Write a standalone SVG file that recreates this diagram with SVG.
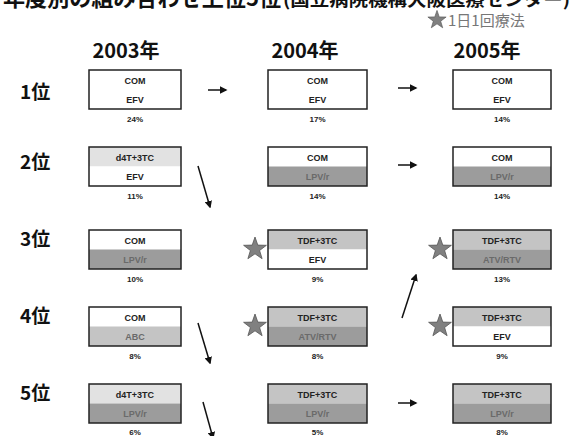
<svg xmlns="http://www.w3.org/2000/svg" width="575" height="436" viewBox="0 0 575 436">
<defs>
<style>
.ttl{font-family:"Noto Sans CJK JP",sans-serif;font-weight:bold;fill:#111}
.yr{font-family:"Noto Sans CJK JP",sans-serif;font-weight:bold;font-size:20px;fill:#111;text-anchor:middle}
.rk{font-family:"Noto Sans CJK JP",sans-serif;font-weight:bold;font-size:19px;fill:#111}
.lg{font-family:"Noto Sans CJK JP",sans-serif;font-size:15px;fill:#777}
.bx{stroke:#222;stroke-width:1.5;fill:none}
.t{font-family:"Liberation Sans",Arial,sans-serif;font-size:9px;font-weight:bold;fill:#222;text-anchor:middle}
.td{font-family:"Liberation Sans",Arial,sans-serif;font-size:9px;font-weight:bold;fill:#6a6a6a;text-anchor:middle}
.p{font-family:"Liberation Sans",Arial,sans-serif;font-size:8px;font-weight:bold;fill:#222;text-anchor:middle}
.w{fill:#ffffff}
.l{fill:#e2e2e2}
.m{fill:#c4c4c4}
.d{fill:#9c9c9c}
.ar{stroke:#111;stroke-width:1.5;fill:none;marker-end:url(#ah)}
.star{fill:#808080;stroke:#555;stroke-width:0.8}
</style>
<marker id="ah" viewBox="0 0 10 10" refX="8" refY="5" markerWidth="5" markerHeight="5" orient="auto" markerUnits="strokeWidth">
<path d="M0,0 L10,5 L0,10 z" fill="#111"/>
</marker>
<path id="st" d="M0,-12 L2.8,-3.9 L11.4,-3.7 L4.6,1.5 L7.1,9.7 L0,4.8 L-7.1,9.7 L-4.6,1.5 L-11.4,-3.7 L-2.8,-3.9 z"/>
</defs>

<g id="title">
<text class="ttl" x="3" y="6" font-size="22" textLength="278" lengthAdjust="spacingAndGlyphs">年度別の組み合わせ上位5位</text>
<text class="ttl" x="283" y="6" font-size="17" textLength="287" lengthAdjust="spacingAndGlyphs">(国立病院機構大阪医療センター)</text>
</g>

<g id="legend">
<use href="#st" class="star" transform="translate(437,20) scale(0.8)"/>
<text class="lg" x="448" y="26">1日1回療法</text>
</g>

<g id="years">
<text class="yr" x="126" y="58">2003年</text>
<text class="yr" x="305" y="58">2004年</text>
<text class="yr" x="487" y="58">2005年</text>
</g>

<g id="ranks">
<text class="rk" x="20" y="99">1位</text>
<text class="rk" x="20" y="169">2位</text>
<text class="rk" x="20" y="246">3位</text>
<text class="rk" x="20" y="323">4位</text>
<text class="rk" x="20" y="400">5位</text>
</g>

<!-- 2003 column -->
<g id="n2003-1">
<rect class="w" x="89" y="70" width="92" height="39"/>
<rect class="bx" x="89" y="70" width="92" height="39"/>
<text class="t" x="135" y="84">COM</text><text class="t" x="135" y="103">EFV</text>
<text class="p" x="135" y="122">24%</text>
</g>
<g id="n2003-2">
<rect class="l" x="89" y="147" width="92" height="19.5"/><rect class="w" x="89" y="166.5" width="92" height="19.5"/>
<rect class="bx" x="89" y="147" width="92" height="39"/>
<text class="t" x="135" y="161">d4T+3TC</text><text class="t" x="135" y="180">EFV</text>
<text class="p" x="135" y="199">11%</text>
</g>
<g id="n2003-3">
<rect class="w" x="89" y="230" width="92" height="19.5"/><rect class="d" x="89" y="249.5" width="92" height="19.5"/>
<rect class="bx" x="89" y="230" width="92" height="39"/>
<text class="t" x="135" y="244">COM</text><text class="td" x="135" y="263">LPV/r</text>
<text class="p" x="135" y="282">10%</text>
</g>
<g id="n2003-4">
<rect class="w" x="89" y="307" width="92" height="19.5"/><rect class="m" x="89" y="326.5" width="92" height="19.5"/>
<rect class="bx" x="89" y="307" width="92" height="39"/>
<text class="t" x="135" y="321">COM</text><text class="td" x="135" y="340">ABC</text>
<text class="p" x="135" y="359">8%</text>
</g>
<g id="n2003-5">
<rect class="l" x="89" y="384" width="92" height="19.5"/><rect class="d" x="89" y="403.5" width="92" height="19.5"/>
<rect class="bx" x="89" y="384" width="92" height="39"/>
<text class="t" x="135" y="398">d4T+3TC</text><text class="td" x="135" y="417">LPV/r</text>
<text class="p" x="135" y="435">6%</text>
</g>

<!-- 2004 column -->
<g id="n2004-1">
<rect class="w" x="268" y="70" width="99" height="39"/>
<rect class="bx" x="268" y="70" width="99" height="39"/>
<text class="t" x="317.5" y="84">COM</text><text class="t" x="317.5" y="103">EFV</text>
<text class="p" x="317.5" y="122">17%</text>
</g>
<g id="n2004-2">
<rect class="w" x="268" y="147" width="99" height="19.5"/><rect class="d" x="268" y="166.5" width="99" height="19.5"/>
<rect class="bx" x="268" y="147" width="99" height="39"/>
<text class="t" x="317.5" y="161">COM</text><text class="td" x="317.5" y="180">LPV/r</text>
<text class="p" x="317.5" y="199">14%</text>
</g>
<g id="n2004-3">
<use href="#st" class="star" transform="translate(255,249)"/>
<rect class="m" x="268" y="230" width="99" height="19.5"/><rect class="w" x="268" y="249.5" width="99" height="19.5"/>
<rect class="bx" x="268" y="230" width="99" height="39"/>
<text class="t" x="317.5" y="244">TDF+3TC</text><text class="t" x="317.5" y="263">EFV</text>
<text class="p" x="317.5" y="282">9%</text>
</g>
<g id="n2004-4">
<use href="#st" class="star" transform="translate(255,326)"/>
<rect class="m" x="268" y="307" width="99" height="19.5"/><rect class="d" x="268" y="326.5" width="99" height="19.5"/>
<rect class="bx" x="268" y="307" width="99" height="39"/>
<text class="t" x="317.5" y="321">TDF+3TC</text><text class="td" x="317.5" y="340">ATV/RTV</text>
<text class="p" x="317.5" y="359">8%</text>
</g>
<g id="n2004-5">
<rect class="m" x="268" y="384" width="99" height="19.5"/><rect class="d" x="268" y="403.5" width="99" height="19.5"/>
<rect class="bx" x="268" y="384" width="99" height="39"/>
<text class="t" x="317.5" y="398">TDF+3TC</text><text class="td" x="317.5" y="417">LPV/r</text>
<text class="p" x="317.5" y="435">5%</text>
</g>

<!-- 2005 column -->
<g id="n2005-1">
<rect class="w" x="453" y="70" width="98" height="39"/>
<rect class="bx" x="453" y="70" width="98" height="39"/>
<text class="t" x="502" y="84">COM</text><text class="t" x="502" y="103">EFV</text>
<text class="p" x="502" y="122">14%</text>
</g>
<g id="n2005-2">
<rect class="w" x="453" y="147" width="98" height="19.5"/><rect class="d" x="453" y="166.5" width="98" height="19.5"/>
<rect class="bx" x="453" y="147" width="98" height="39"/>
<text class="t" x="502" y="161">COM</text><text class="td" x="502" y="180">LPV/r</text>
<text class="p" x="502" y="199">14%</text>
</g>
<g id="n2005-3">
<use href="#st" class="star" transform="translate(440,249)"/>
<rect class="m" x="453" y="230" width="98" height="19.5"/><rect class="d" x="453" y="249.5" width="98" height="19.5"/>
<rect class="bx" x="453" y="230" width="98" height="39"/>
<text class="t" x="502" y="244">TDF+3TC</text><text class="td" x="502" y="263">ATV/RTV</text>
<text class="p" x="502" y="282">13%</text>
</g>
<g id="n2005-4">
<use href="#st" class="star" transform="translate(440,326)"/>
<rect class="m" x="453" y="307" width="98" height="19.5"/><rect class="w" x="453" y="326.5" width="98" height="19.5"/>
<rect class="bx" x="453" y="307" width="98" height="39"/>
<text class="t" x="502" y="321">TDF+3TC</text><text class="t" x="502" y="340">EFV</text>
<text class="p" x="502" y="359">9%</text>
</g>
<g id="n2005-5">
<rect class="m" x="453" y="384" width="98" height="19.5"/><rect class="d" x="453" y="403.5" width="98" height="19.5"/>
<rect class="bx" x="453" y="384" width="98" height="39"/>
<text class="t" x="502" y="398">TDF+3TC</text><text class="td" x="502" y="417">LPV/r</text>
<text class="p" x="502" y="435">8%</text>
</g>

<g id="connectors">
<line class="ar" x1="208" y1="90" x2="226" y2="90"/>
<line class="ar" x1="398" y1="88" x2="416" y2="88"/>
<line class="ar" x1="398" y1="165" x2="416" y2="165"/>
<line class="ar" x1="398" y1="403" x2="416" y2="403"/>
<line class="ar" x1="198" y1="166" x2="210" y2="207"/>
<line class="ar" x1="198" y1="323" x2="210" y2="363"/>
<line class="ar" x1="203" y1="402" x2="213" y2="438"/>
<line class="ar" x1="402" y1="318" x2="416" y2="275"/>
</g>
</svg>
